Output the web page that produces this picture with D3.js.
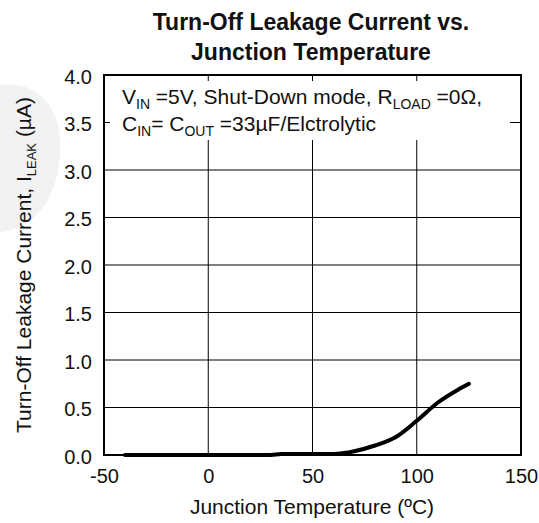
<!DOCTYPE html>
<html>
<head>
<meta charset="utf-8">
<script src="https://cdn.jsdelivr.net/npm/d3@7"></script>
<style>
  body { margin: 0; background: #fff; }
  svg { font-family: "Liberation Sans", Arial, sans-serif; }
</style>
</head>
<body>
<figure id="chart" style="margin:0"></figure>
<script>
// data
const tempC = [-40, 0, 30, 35, 60, 65, 70, 80, 90, 100, 110, 120, 125];
const leakUA = [0, 0, 0, 0.01, 0.01, 0.02, 0.04, 0.1, 0.19, 0.36, 0.55, 0.69, 0.75];
const xTicks = [-50, 0, 50, 100, 150];
const yTicks = [0, 0.5, 1.0, 1.5, 2.0, 2.5, 3.0, 3.5, 4.0];

const width = 539, height = 523;
const plotL = 104, plotR = 521, plotT = 75, plotB = 455;
const ink = "#111";

const svg = d3.select("figure#chart")
  .append("svg")
  .attr("width", width)
  .attr("height", height);

const x = d3.scaleLinear().domain([-50, 150]).range([plotL, plotR]);
const y = d3.scaleLinear().domain([0, 4]).range([plotB, plotT]);

// faint grey smudge at the left edge of the scan
svg.append("path")
  .attr("d", "M0,85 C30,80 58,100 60,140 C62,190 40,228 0,232 Z")
  .attr("fill", "#f2f2f2");

// title
svg.append("text")
  .attr("x", 311).attr("y", 30)
  .attr("text-anchor", "middle").attr("fill", ink)
  .style("font-size", "23px").style("font-weight", "bold")
  .text("Turn-Off Leakage Current vs.");
svg.append("text")
  .attr("x", 311).attr("y", 60)
  .attr("text-anchor", "middle").attr("fill", ink)
  .style("font-size", "23px").style("font-weight", "bold")
  .text("Junction Temperature");

// grid
const grid = svg.append("g").attr("stroke", "#000").attr("stroke-width", 1);
grid.selectAll("line.h")
  .data(yTicks.filter(d => d > 0 && d <= 3.0))
  .enter().append("line")
  .attr("x1", plotL).attr("x2", plotR)
  .attr("y1", d => y(d)).attr("y2", d => y(d));
grid.selectAll("line.v")
  .data(xTicks.filter(d => d > -50 && d < 150))
  .enter().append("line")
  .attr("x1", d => x(d)).attr("x2", d => x(d))
  .attr("y1", 140).attr("y2", plotB);

// short ticks where the note covers the grid
const inner = svg.append("g").attr("stroke", "#000").attr("stroke-width", 1);
inner.selectAll("line.t")
  .data(xTicks.filter(d => d > -50 && d < 150))
  .enter().append("line")
  .attr("x1", d => x(d)).attr("x2", d => x(d))
  .attr("y1", plotT).attr("y2", plotT + 6);
inner.append("line")
  .attr("x1", plotL).attr("x2", plotL + 6)
  .attr("y1", y(3.5)).attr("y2", y(3.5));
inner.append("line")
  .attr("x1", plotR - 11).attr("x2", plotR)
  .attr("y1", y(3.5)).attr("y2", y(3.5));

// axes (labels only, tick marks drawn by the grid)
const xAxis = svg.append("g")
  .attr("transform", "translate(0," + plotB + ")")
  .call(d3.axisBottom(x).tickValues(xTicks).tickSize(0).tickPadding(0).tickFormat(d => String(d)));
const yAxis = svg.append("g")
  .attr("transform", "translate(" + plotL + ",0)")
  .call(d3.axisLeft(y).tickValues(yTicks).tickSize(0).tickPadding(12).tickFormat(d3.format(".1f")));
[xAxis, yAxis].forEach(a => {
  a.select(".domain").remove();
  a.selectAll("text").style("font-size", "20px").attr("fill", ink)
    .style("font-family", "'Liberation Sans', Arial, sans-serif");
});
xAxis.selectAll("text").attr("y", 28).attr("dy", null);
yAxis.selectAll("text").attr("dy", "0.42em");

// frame
svg.append("rect")
  .attr("x", plotL).attr("y", plotT)
  .attr("width", plotR - plotL).attr("height", plotB - plotT)
  .attr("fill", "none").attr("stroke", "#000").attr("stroke-width", 2);

// curve
const line = d3.line()
  .x((d, i) => x(tempC[i]))
  .y(d => y(d))
  .curve(d3.curveMonotoneX);
svg.append("path")
  .datum(leakUA)
  .attr("d", line)
  .attr("fill", "none")
  .attr("stroke", "#000")
  .attr("stroke-width", 4)
  .attr("stroke-linecap", "round");

// note
const note = svg.append("g").style("font-size", "21px").attr("fill", ink);
const n1 = note.append("text").attr("x", 122).attr("y", 104);
n1.append("tspan").text("V");
n1.append("tspan").attr("dy", 5).style("font-size", "14px").text("IN");
n1.append("tspan").attr("dy", -5).text(" =5V, Shut-Down mode, R");
n1.append("tspan").attr("dy", 5).style("font-size", "14px").text("LOAD");
n1.append("tspan").attr("dy", -5).text(" =0\u03a9,");
const n2 = note.append("text").attr("x", 122).attr("y", 131);
n2.append("tspan").text("C");
n2.append("tspan").attr("dy", 5).style("font-size", "14px").text("IN");
n2.append("tspan").attr("dy", -5).text("= C");
n2.append("tspan").attr("dy", 5).style("font-size", "14px").text("OUT");
n2.append("tspan").attr("dy", -5).text(" =33\u00b5F/Elctrolytic");

// axis titles
svg.append("text")
  .attr("x", 312).attr("y", 514)
  .attr("text-anchor", "middle").attr("fill", ink)
  .style("font-size", "21px")
  .text("Junction Temperature (\u00baC)");
const yl = svg.append("text")
  .attr("transform", "translate(31," + 265 + ") rotate(-90)")
  .attr("text-anchor", "middle").attr("fill", ink)
  .style("font-size", "21px");
yl.append("tspan").text("Turn-Off Leakage Current, I");
yl.append("tspan").attr("dy", 5).style("font-size", "13px").text("LEAK");
yl.append("tspan").attr("dy", -5).text(" (\u00b5A)");
</script>
</body>
</html>
